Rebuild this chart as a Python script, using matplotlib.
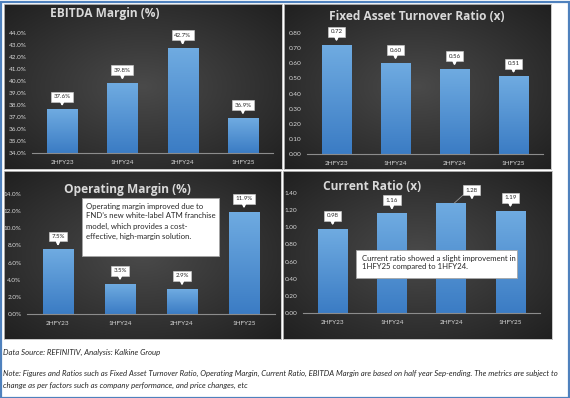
import numpy as np
import matplotlib
matplotlib.use('Agg')
import matplotlib.pyplot as plt
from matplotlib.patches import Rectangle
from matplotlib.transforms import offset_copy
from matplotlib.colors import LinearSegmentedColormap
from matplotlib.ticker import FuncFormatter

periods = ['2HFY23', '1HFY24', '2HFY24', '1HFY25']
ebitda_margin = [37.6, 39.8, 42.7, 36.9]
fixed_asset_turnover = [0.72, 0.60, 0.56, 0.51]
operating_margin = [7.5, 3.5, 2.9, 11.9]
current_ratio = [0.98, 1.16, 1.28, 1.19]

titles = ['EBITDA Margin (%)', 'Fixed Asset Turnover Ratio (x)',
          'Operating Margin (%)', 'Current Ratio (x)']
op_note = ["Operating margin improved due to",
           "FND\u2019s new white-label ATM franchise",
           "model, which provides a cost-",
           "effective, high-margin solution."]
cr_note = ["Current ratio showed a slight improvement in",
           "1HFY25 compared to 1HFY24."]
source_text = "Data Source: REFINITIV, Analysis: Kalkine Group"
note_lines = ["Note: Figures and Ratios such as Fixed Asset Turnover Ratio, Operating Margin, Current Ratio, EBITDA Margin are based on half year Sep-ending. The metrics are subject to",
              "change as per factors such as company performance, and price changes, etc"]

W, H = 570, 398
plt.rcParams['font.family'] = ['Lato', 'DejaVu Sans']
fig = plt.figure(figsize=(W / 100, H / 100), dpi=100)
fig.patch.set_facecolor('white')


def rect(x0, y0, x1, y1):
    return [x0 / W, 1 - y1 / H, (x1 - x0) / W, (y1 - y0) / H]


def fy(y):
    return 1 - y / H


# radial background
yy, xx = np.mgrid[-1:1:200j, -1:1:300j]
rr = np.clip(np.sqrt(xx ** 2 + yy ** 2) / np.sqrt(2), 0, 1)
c0 = np.array([0x4a, 0x4a, 0x4a]) / 255
c1 = np.array([0x20, 0x20, 0x20]) / 255
bg_img = c0 + (c1 - c0) * rr[..., None]


def panel(x0, y0, x1, y1):
    a = fig.add_axes(rect(x0, y0, x1, y1))
    a.imshow(bg_img, extent=(0, 1, 0, 1), aspect='auto')
    a.set_xlim(0, 1)
    a.set_ylim(0, 1)
    a.set_xticks([])
    a.set_yticks([])
    for s in a.spines.values():
        s.set_color('#bfbfbf')
        s.set_linewidth(0.6)
    a.set_zorder(0)
    return a


bar_cmap = LinearSegmentedColormap.from_list('b', ['#3b7cc4', '#6fabe1'])


def make_chart(prect, arect, vals, ylim, yticks, fmt):
    panel(*prect)
    ax = fig.add_axes(rect(*arect))
    ax.set_facecolor('none')
    ax.set_zorder(1)
    xs = np.arange(len(periods))
    base = ylim[0]
    bars = ax.bar(xs, [v - base for v in vals], bottom=base, width=0.5,
                  color='none', edgecolor='none')
    grad = np.linspace(0, 1, 100)[:, None]
    for b in bars:
        x0, y0 = b.get_x(), b.get_y()
        w, h = b.get_width(), b.get_height()
        ax.imshow(grad, extent=(x0, x0 + w, y0, y0 + h), origin='lower',
                  aspect='auto', cmap=bar_cmap, zorder=2)
    ax.set_xlim(-0.5, len(periods) - 0.5)
    ax.set_ylim(*ylim)
    ax.set_yticks(yticks)
    ax.yaxis.set_major_formatter(FuncFormatter(fmt))
    ax.set_xticks(xs)
    ax.set_xticklabels(periods)
    ax.tick_params(axis='both', length=0, colors='#d9d9d9', labelsize=4.6)
    ax.tick_params(axis='x', pad=5)
    ax.tick_params(axis='y', pad=4)
    for k in ['top', 'right', 'left']:
        ax.spines[k].set_visible(False)
    ax.spines['bottom'].set_color('#8c8c8c')
    ax.spines['bottom'].set_linewidth(0.8)
    return ax


def label(ax, x, y, text, dx=0.0, dy=9.5, leader=False):
    ax.annotate(text, xy=(x, y), xytext=(dx, dy), textcoords='offset points',
                ha='center', va='center', fontsize=4.4, color='#262626',
                bbox=dict(boxstyle='square,pad=0.4', fc='white', ec='#d0d0d0', lw=0.4),
                zorder=6, annotation_clip=False)
    t_from = offset_copy(ax.transData, fig=fig, x=dx, y=dy - 3.5, units='points')
    t_to = offset_copy(ax.transData, fig=fig, x=dx, y=dy - 7.0, units='points')
    ax.annotate('', xy=(x, y), xycoords=t_to, xytext=(x, y), textcoords=t_from,
                arrowprops=dict(arrowstyle='-|>', color='white', lw=1.3,
                                mutation_scale=4.5, shrinkA=0, shrinkB=0),
                annotation_clip=False, zorder=6)
    if leader:
        t_box = offset_copy(ax.transData, fig=fig, x=dx - 6, y=dy - 3.2, units='points')
        ax.annotate('', xy=(x + 0.05, y), xycoords='data', xytext=(x, y), textcoords=t_box,
                    arrowprops=dict(arrowstyle='-', color='#a6a6a6', lw=0.5,
                                    shrinkA=0, shrinkB=0),
                    annotation_clip=False, zorder=5)


pct = lambda v, p: f'{v:.1f}%'
dec = lambda v, p: f'{v:.2f}'

# Top-left: EBITDA margin
ax1 = make_chart((4, 4, 282, 169), (32, 33, 273, 153), ebitda_margin,
                 (34, 44), np.arange(34, 44.01, 1), pct)
for i, v in enumerate(ebitda_margin):
    label(ax1, i, v, f'{v:.1f}%')

# Top-right: Fixed asset turnover
ax2 = make_chart((284, 4, 551, 169), (307, 33, 543, 154), fixed_asset_turnover,
                 (0, 0.8), np.arange(0, 0.801, 0.1), dec)
for i, v in enumerate(fixed_asset_turnover):
    label(ax2, i, v, f'{v:.2f}')

# Bottom-left: Operating margin
ax3 = make_chart((4, 171, 281, 339), (27, 194, 275, 314), operating_margin,
                 (0, 14), np.arange(0, 14.01, 2), pct)
for i, v in enumerate(operating_margin):
    label(ax3, i, v, f'{v:.1f}%')

# Bottom-right: Current ratio
ax4 = make_chart((283, 171, 552, 339), (303, 193, 540, 313), current_ratio,
                 (0, 1.4), np.arange(0, 1.401, 0.2), dec)
for i, v in enumerate(current_ratio):
    if i == 2:
        label(ax4, i, v, f'{v:.2f}', dx=15, dy=9.5, leader=True)
    else:
        label(ax4, i, v, f'{v:.2f}')

# Titles
title_pos = [(105, 14), (417, 17), (127, 190), (372, 187)]
for t, (x, y) in zip(titles, title_pos):
    fig.text(x / W, fy(y), t, ha='center', va='center', fontsize=8.6,
             fontweight='bold', family=['Open Sans', 'DejaVu Sans'],
             color='#d9d9d9', zorder=10)

# Note boxes
def note_box(x0, y0, x1, y1, lines, ys, tx):
    fig.patches.append(Rectangle((x0 / W, fy(y1)), (x1 - x0) / W, (y1 - y0) / H,
                                 transform=fig.transFigure, fc='white', ec='#a6a6a6',
                                 lw=0.6, zorder=8))
    for ln, yv in zip(lines, ys):
        fig.text(tx / W, fy(yv), ln, ha='left', va='center', fontsize=5.6,
                 color='#262626', zorder=9)


note_box(82, 198, 219, 256, op_note, [206, 216, 226, 236], 86)
note_box(356, 250, 517, 278, cr_note, [258, 267], 362)

# Footer
fig.text(3 / W, fy(352), source_text, ha='left', va='center', fontsize=5.6,
         style='italic', color='#262626')
fig.text(3 / W, fy(373), note_lines[0], ha='left', va='center', fontsize=5.6,
         style='italic', color='#262626')
fig.text(3 / W, fy(385), note_lines[1], ha='left', va='center', fontsize=5.6,
         style='italic', color='#262626')

# Outer blue frame
fig.patches.append(Rectangle((0.5 / W, 0.5 / H), (W - 2) / W, (H - 2) / H,
                             transform=fig.transFigure, fill=False,
                             ec='#4f81bd', lw=1.6, zorder=20))

fig.savefig('out.png', dpi=100, facecolor='white')
